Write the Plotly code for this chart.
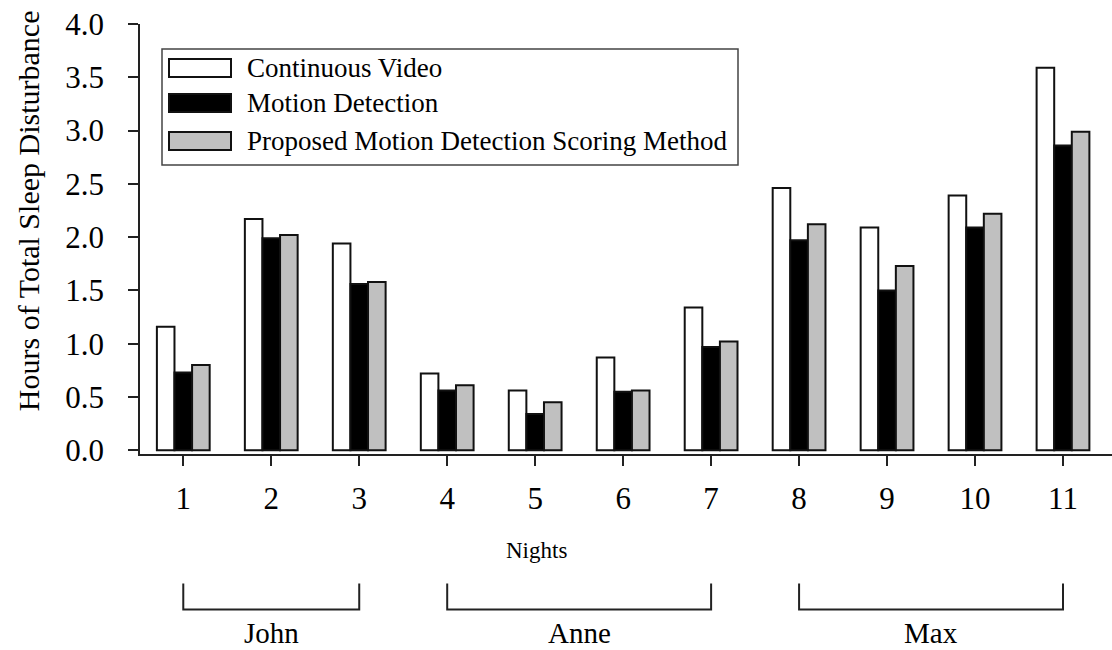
import plotly.graph_objects as go

nights = [1, 2, 3, 4, 5, 6, 7, 8, 9, 10, 11]
continuous_video = [1.16, 2.17, 1.94, 0.72, 0.56, 0.87, 1.34, 2.46, 2.09, 2.39, 3.59]
motion_detection = [0.73, 1.99, 1.56, 0.56, 0.34, 0.55, 0.97, 1.97, 1.50, 2.09, 2.86]
proposed_method = [0.80, 2.02, 1.58, 0.61, 0.45, 0.56, 1.02, 2.12, 1.73, 2.22, 2.99]
series_names = ["Continuous Video", "Motion Detection", "Proposed Motion Detection Scoring Method"]
subjects = ["John", "Anne", "Max"]
subject_nights = [(1, 3), (4, 7), (8, 11)]
y_ticks = [0.0, 0.5, 1.0, 1.5, 2.0, 2.5, 3.0, 3.5, 4.0]

W, H = 1112, 650
L, R, T, B = 140, 0, 24, 196.3
PW, PH = W - L - R, H - T - B

def px(x):
    return (x - L) / PW

def py(y):
    return (H - B - y) / PH

FONT = "Liberation Serif, Times New Roman, serif"
fills = ["#ffffff", "#000000", "#c0c0c0"]
outline = "#111111"

fig = go.Figure()
for name, vals, col in zip(series_names, [continuous_video, motion_detection, proposed_method], fills):
    fig.add_trace(go.Bar(x=nights, y=vals, name=name, marker=dict(color=col, line=dict(color=outline, width=2)),
                         showlegend=False))

shapes = []
annotations = []

# legend box (custom, to get wide rectangle swatches)
shapes.append(dict(type="rect", xref="paper", yref="paper", x0=px(162), x1=px(738), y0=py(165), y1=py(49),
                   line=dict(color="#444444", width=1.5), fillcolor="rgba(0,0,0,0)", layer="above"))
row_y = [68, 103, 141]
for name, col, yc in zip(series_names, fills, row_y):
    shapes.append(dict(type="rect", xref="paper", yref="paper", x0=px(169), x1=px(231), y0=py(yc + 9), y1=py(yc - 9),
                       line=dict(color=outline, width=2), fillcolor=col, layer="above"))
    annotations.append(dict(xref="paper", yref="paper", x=px(245), y=py(yc), text=name, showarrow=False,
                            xanchor="left", yanchor="middle", font=dict(family=FONT, size=27, color="black")))

# subject brackets under the axis
for subj, (a, b) in zip(subjects, subject_nights):
    shapes.append(dict(type="path", xref="x", yref="paper",
                       path=f"M {a},{py(583)} L {a},{py(609)} L {b},{py(609)} L {b},{py(583)}",
                       line=dict(color="#222222", width=2)))
    annotations.append(dict(xref="x", yref="paper", x=(a + b) / 2, y=py(651), text=subj, showarrow=False,
                            xanchor="center", yanchor="bottom", font=dict(family=FONT, size=29, color="black")))

annotations.append(dict(xref="paper", yref="paper", x=px(536), y=py(550), text="Nights", showarrow=False,
                        xanchor="center", yanchor="middle", font=dict(family=FONT, size=23, color="black")))
annotations.append(dict(xref="paper", yref="paper", x=px(28), y=py(211), text="Hours of Total Sleep Disturbance",
                        showarrow=False, textangle=-90, xanchor="center", yanchor="middle",
                        font=dict(family=FONT, size=30, color="black")))

fig.update_layout(
    width=W, height=H,
    margin=dict(l=L, r=R, t=T, b=B, autoexpand=False),
    paper_bgcolor="white", plot_bgcolor="white",
    barmode="group", bargap=0.4, bargroupgap=0,
    shapes=shapes, annotations=annotations,
    font=dict(family=FONT, color="black"),
    xaxis=dict(range=[0.508, 11.557], tickvals=nights, ticktext=[str(n) for n in nights],
               showline=True, linecolor="#222222", linewidth=1.5, ticks="outside", ticklen=10, tickwidth=1.5,
               tickcolor="#222222", showgrid=False, zeroline=False, tickfont=dict(family=FONT, size=31),
               ticklabelstandoff=6),
    yaxis=dict(range=[-0.035, 4.0], tickvals=y_ticks, ticktext=[f"{v:.1f}" for v in y_ticks],
               showline=True, linecolor="#222222", linewidth=1.5, ticks="outside", ticklen=10, tickwidth=1.5,
               tickcolor="#222222", showgrid=False, zeroline=False, tickfont=dict(family=FONT, size=31),
               ticklabelstandoff=18),
)

fig.write_html("out.html")
